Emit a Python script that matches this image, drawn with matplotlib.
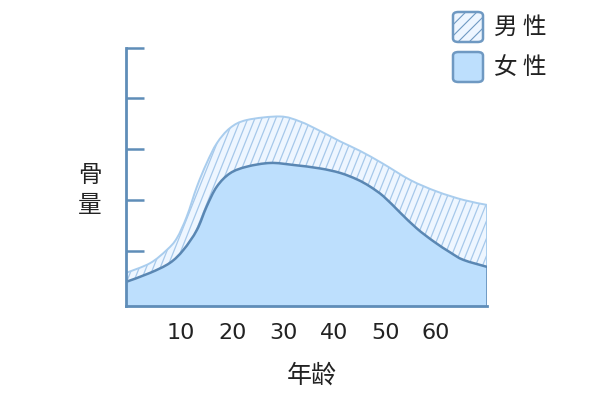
import numpy as np
import matplotlib.pyplot as plt
from matplotlib.patches import FancyBboxPatch, PathPatch
from matplotlib.path import Path

plt.rcParams['font.family'] = ['Noto Sans CJK SC', 'DejaVu Sans']
plt.rcParams['hatch.color'] = '#a6c8ea'
plt.rcParams['hatch.linewidth'] = 0.8

# bone mass vs age (arbitrary units)
age_f = [-0.8, 3.9, 7.8, 10.45, 13.1, 15.0, 17.0, 19.6, 22.9, 27.5, 32.0,
         37.25, 41.2, 44.5, 47.0, 49.7, 52.9, 56.2, 59.5, 62.75, 65.35, 70.0]
female = [24.5, 33.5, 43.5, 56.5, 76.5, 99.8, 119.8, 133.2, 139.8, 143.5, 141.5,
          138.0, 133.5, 127.0, 120.0, 110.0, 94.0, 78.0, 65.0, 54.0, 46.5, 39.5]
age_m = [-0.8, 3.9, 7.2, 9.16, 11.1, 13.1, 15.0, 17.0, 19.6, 22.9, 29.4, 33.3,
         37.25, 41.2, 45.1, 49.5, 54.9, 60.1, 65.35, 70.0]
male = [33.5, 43.2, 56.5, 68.2, 89.8, 119.8, 143.2, 163.2, 178.5, 186.5, 190.0,
        185.0, 175.5, 165.0, 155.5, 143.0, 126.5, 115.0, 106.5, 101.5]
xticks = [10, 20, 30, 40, 50, 60]
yticks = [55, 106, 157, 208, 258]

axis_col = '#5f8db8'
f_fill = '#bddffd'
f_line = '#5a87b3'
m_fill = '#eef6ff'
m_line = '#a9cdee'


def smooth(xs, ys):
    # catmull-rom through the points, as cubic bezier pieces
    p = np.column_stack([xs, ys]).astype(float)
    p = np.vstack([p[0], p, p[-1]])
    verts = [p[1]]
    codes = [Path.MOVETO]
    for i in range(1, len(p) - 2):
        c1 = p[i] + (p[i + 1] - p[i - 1]) / 6
        c2 = p[i + 1] - (p[i + 2] - p[i]) / 6
        verts += [c1, c2, p[i + 1]]
        codes += [Path.CURVE4] * 3
    return np.array(verts), codes


fig = plt.figure(figsize=(6, 4), dpi=100)
ax = fig.add_axes([0.21, 0.234, 0.602, 0.646])

mv, mc = smooth(age_m, male)
fv, fc_ = smooth(age_f, female)

# male band between the two curves
band_v = np.vstack([mv, fv[::-1], mv[:1]])
band_c = mc + [Path.LINETO] + [Path.CURVE4] * (len(fc_) - 1) + [Path.CLOSEPOLY]
band_path = Path(band_v, band_c)
ax.add_patch(PathPatch(band_path, facecolor=m_fill, lw=0, zorder=1))
for x0 in np.arange(-30, 75, 1.37):
    ln, = ax.plot([x0, x0 + 23.5], [0, 300], color='#a6c8ea', lw=0.9, zorder=2)
    ln.set_clip_path(band_path, ax.transData)
ax.add_patch(PathPatch(Path(mv, mc), facecolor='none', edgecolor=m_line, lw=1.4, zorder=3))
ax.vlines(age_m[-1], female[-1], male[-1], color=m_line, lw=1.4, zorder=3)

# female area
fem_v = np.vstack([fv, [[age_f[-1], 0], [age_f[0], 0], fv[0]]])
fem_c = fc_ + [Path.LINETO, Path.LINETO, Path.CLOSEPOLY]
ax.add_patch(PathPatch(Path(fem_v, fem_c), facecolor=f_fill, lw=0, zorder=4))
ax.add_patch(PathPatch(Path(fv, fc_), facecolor='none', edgecolor=f_line, lw=1.8, zorder=5))
ax.vlines(age_f[-1], 0, female[-1], color=f_line, lw=1.8, zorder=5)

ax.set_xlim(-0.8, 70)
ax.set_ylim(0, 258.5)
for s in ['top', 'right']:
    ax.spines[s].set_visible(False)
for s in ['left', 'bottom']:
    ax.spines[s].set_color(axis_col)
    ax.spines[s].set_linewidth(2)
    ax.spines[s].set_zorder(6)
ax.set_xticks(xticks)
ax.set_xticklabels([str(t) for t in xticks], family='DejaVu Sans', fontsize=16)
ax.set_yticks(yticks)
ax.set_yticklabels([])
ax.tick_params(axis='x', direction='in', length=11, width=1.8, color=axis_col,
               pad=12, labelcolor='#222222')
ax.tick_params(axis='y', direction='in', length=13, width=1.8, color=axis_col)
for t in ax.get_xticklines() + ax.get_yticklines():
    t.set_zorder(6)

fig.text(0.15, 0.5625, '骨', fontsize=17, ha='center', va='center', color='#222222')
fig.text(0.15, 0.4875, '量', fontsize=17, ha='center', va='center', color='#222222')
fig.text(0.52, 0.06, '年龄', fontsize=18, ha='center', va='center', color='#222222')

# legend
for y0, fc, hatch, lab in [(0.895, m_fill, '///', '男 性'), (0.795, f_fill, None, '女 性')]:
    box = FancyBboxPatch((0.755, y0), 0.05, 0.075, boxstyle='round,pad=0,rounding_size=0.009',
                         transform=fig.transFigure, facecolor=fc, edgecolor='#6f99c2',
                         lw=1.8, hatch=hatch)
    fig.patches.append(box)
    fig.text(0.824, y0 + 0.037, lab, fontsize=17, ha='left', va='center', color='#222222')

fig.savefig('out.png', dpi=100)
